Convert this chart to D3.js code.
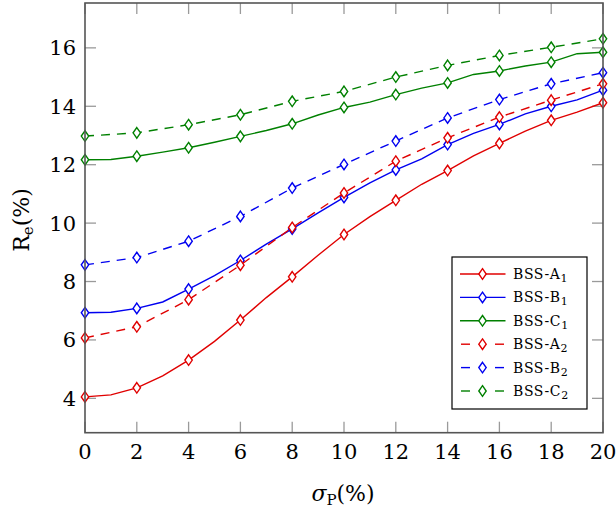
<!DOCTYPE html>
<html><head><meta charset="utf-8">
<script src="https://cdn.jsdelivr.net/npm/d3@7"></script>
<style>body{margin:0;background:#fff}svg{display:block}</style>
</head><body><svg id="c" width="616" height="510"></svg>
<script>
// Data
const xsAll = [0,1,2,3,4,5,6,7,8,9,10,11,12,13,14,15,16,17,18,19,20];
const xsEven = [0,2,4,6,8,10,12,14,16,18,20];
const A1 = [4.05,4.12,4.36,4.77,5.31,5.95,6.68,7.45,8.16,8.9,9.61,10.22,10.78,11.33,11.8,12.3,12.73,13.15,13.52,13.8,14.12];
const B1 = [6.93,6.95,7.08,7.3,7.74,8.2,8.72,9.28,9.8,10.35,10.88,11.38,11.82,12.2,12.69,13.07,13.38,13.74,14.0,14.22,14.55];
const C1 = [12.17,12.18,12.29,12.43,12.58,12.77,12.97,13.17,13.4,13.7,13.96,14.14,14.4,14.62,14.8,15.09,15.21,15.38,15.51,15.8,15.85];
const A2 = [6.07,6.45,7.38,8.56,9.85,11.03,12.12,12.92,13.63,14.21,14.77];
const B2 = [8.57,8.82,9.38,10.23,11.2,12.01,12.81,13.6,14.23,14.77,15.15];
const C2 = [12.98,13.09,13.37,13.71,14.17,14.51,15.0,15.4,15.74,16.02,16.31];
const xTicks = [0,2,4,6,8,10,12,14,16,18,20];
const yTicks = [4,6,8,10,12,14,16];
const seriesNames = ["BSS-A","BSS-B","BSS-C","BSS-A","BSS-B","BSS-C"];
const seriesSubs = ["1","1","1","2","2","2"];

const series = [
  {name:seriesNames[0], sub:seriesSubs[0], xs:xsAll, ys:A1, color:"#e00000", dash:null},
  {name:seriesNames[1], sub:seriesSubs[1], xs:xsAll, ys:B1, color:"#0000f0", dash:null},
  {name:seriesNames[2], sub:seriesSubs[2], xs:xsAll, ys:C1, color:"#008000", dash:null},
  {name:seriesNames[3], sub:seriesSubs[3], xs:xsEven, ys:A2, color:"#e00000", dash:"9,7"},
  {name:seriesNames[4], sub:seriesSubs[4], xs:xsEven, ys:B2, color:"#0000f0", dash:"9,7"},
  {name:seriesNames[5], sub:seriesSubs[5], xs:xsEven, ys:C2, color:"#008000", dash:"9,7"}
];

const FONT = "'DejaVu Serif', 'Liberation Serif', serif";
const svg = d3.select("#c").attr("font-family", FONT);
const L=85, R=603, T=3, B=432.7;
const allY = [].concat(A1,B1,C1,A2,B2,C2);
const yMin = d3.min(allY), yMax = d3.max(allY), pad = (yMax-yMin)*0.1;
const x = d3.scaleLinear().domain([0,20]).range([L,R]);
const y = d3.scaleLinear().domain([yMin-pad, yMax+pad]).range([B,T]);

const tickCol="#9a9a9a", tl=11;
const g = svg.append("g");
xTicks.forEach(t=>{
  g.append("line").attr("x1",x(t)).attr("x2",x(t)).attr("y1",B).attr("y2",B-tl).attr("stroke",tickCol).attr("stroke-width",1.3);
  g.append("line").attr("x1",x(t)).attr("x2",x(t)).attr("y1",T).attr("y2",T+tl).attr("stroke",tickCol).attr("stroke-width",1.3);
  g.append("text").attr("x",x(t)).attr("y",B+26).attr("text-anchor","middle").attr("font-size",21).text(t);
});
yTicks.forEach(t=>{
  g.append("line").attr("x1",L).attr("x2",L+tl).attr("y1",y(t)).attr("y2",y(t)).attr("stroke",tickCol).attr("stroke-width",1.3);
  g.append("line").attr("x1",R).attr("x2",R-tl).attr("y1",y(t)).attr("y2",y(t)).attr("stroke",tickCol).attr("stroke-width",1.3);
  g.append("text").attr("x",L-9).attr("y",y(t)+7.5).attr("text-anchor","end").attr("font-size",21).text(t);
});

const line = d3.line().x(d=>x(d[0])).y(d=>y(d[1])).curve(d3.curveLinear);
const diamond = (cx,cy)=>`M${cx},${cy-5.3}L${cx+3.7},${cy}L${cx},${cy+5.3}L${cx-3.7},${cy}Z`;

const plot = svg.append("g");
series.forEach(s=>{
  const pts = s.xs.map((xx,i)=>[xx,s.ys[i]]);
  plot.append("path").attr("d",line(pts)).attr("fill","none").attr("stroke",s.color)
    .attr("stroke-width",1.4).attr("stroke-dasharray",s.dash);
  pts.filter(p=>p[0]%2===0).forEach(p=>{
    plot.append("path").attr("d",diamond(x(p[0]),y(p[1]))).attr("fill","#fff").attr("stroke",s.color).attr("stroke-width",1.4);
  });
});

svg.append("rect").attr("x",L).attr("y",T).attr("width",R-L).attr("height",B-T)
  .attr("fill","none").attr("stroke","#555").attr("stroke-width",1.6);

const xl = svg.append("text").attr("x",343).attr("y",501).attr("text-anchor","middle").attr("font-size",22);
xl.append("tspan").attr("font-style","italic").text("σ");
xl.append("tspan").attr("font-size",15).attr("dy",4).text("P");
xl.append("tspan").attr("dy",-4).text("(%)");
const yl = svg.append("text").attr("transform","translate(29,220) rotate(-90)").attr("text-anchor","middle").attr("font-size",22);
yl.append("tspan").text("R");
yl.append("tspan").attr("font-size",15).attr("dy",4).text("e");
yl.append("tspan").attr("dy",-4).text("(%)");

const lg = svg.append("g");
lg.append("rect").attr("x",452).attr("y",257).attr("width",135).attr("height",152)
  .attr("fill","#fff").attr("stroke","#000").attr("stroke-width",1.2);
series.forEach((s,i)=>{
  const cy = 274 + i*23.4;
  if (s.dash) {
    lg.append("line").attr("x1",461).attr("x2",470).attr("y1",cy).attr("y2",cy).attr("stroke",s.color).attr("stroke-width",1.4);
    lg.append("line").attr("x1",495).attr("x2",504).attr("y1",cy).attr("y2",cy).attr("stroke",s.color).attr("stroke-width",1.4);
  } else {
    lg.append("line").attr("x1",460).attr("x2",505.5).attr("y1",cy).attr("y2",cy).attr("stroke",s.color).attr("stroke-width",1.4);
  }
  lg.append("path").attr("d",diamond(482.5,cy)).attr("fill","#fff").attr("stroke",s.color).attr("stroke-width",1.4);
  const t = lg.append("text").attr("x",513).attr("y",cy+5).attr("font-size",14).attr("letter-spacing",0.6);
  t.append("tspan").text(s.name);
  t.append("tspan").attr("font-size",11).attr("dy",3).attr("letter-spacing",0).text(s.sub);
});
</script></body></html>
